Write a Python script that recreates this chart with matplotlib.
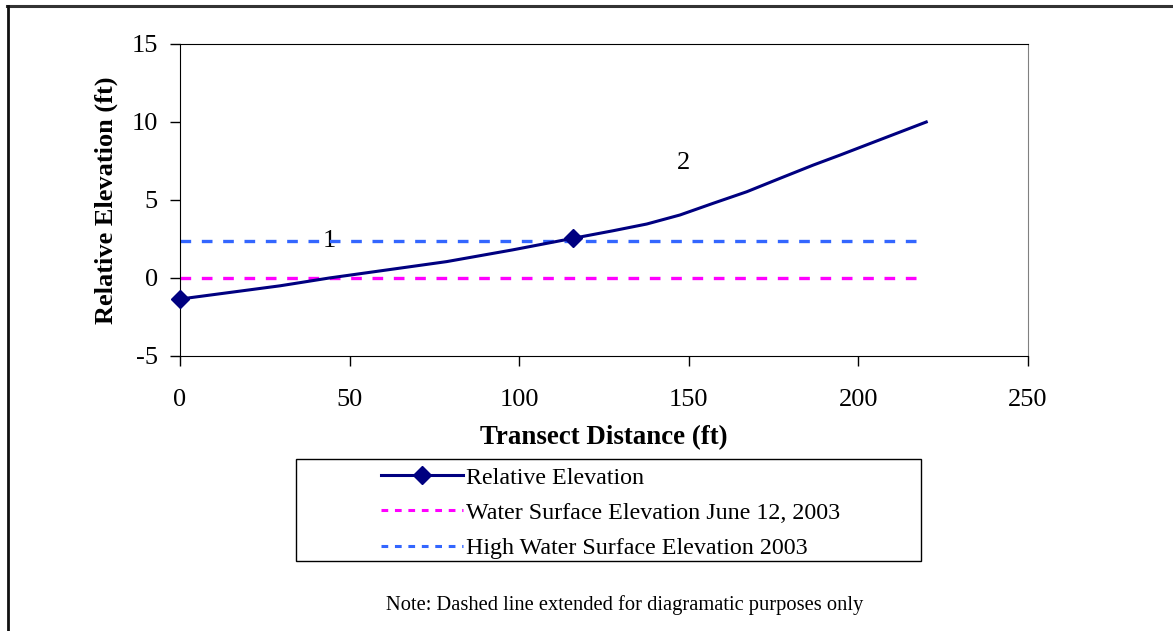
import matplotlib
matplotlib.use("Agg")
import matplotlib.pyplot as plt
from matplotlib.lines import Line2D
from matplotlib.patches import Rectangle

plt.rcParams['font.family'] = ['Liberation Serif', 'DejaVu Serif']
plt.rcParams['axes.unicode_minus'] = False

# Data
distance = [0, 29.5, 44, 78.6, 98, 116, 127.7, 137.6, 147.4, 157.2, 167.1, 176.9,
            186.7, 194.6, 205, 220]
elevation = [-1.35, -0.5, 0.0, 1.05, 1.8, 2.55, 3.03, 3.46, 4.04, 4.79, 5.53, 6.39,
             7.24, 7.88, 8.75, 10.0]
marker_idx = [0, 5]
wse_x = [0, 220]
wse_june = [0.0, 0.0]
wse_high = [2.4, 2.4]
annotations = [("1", 44, 2.4), ("2", 148.4, 7.35)]
xticks = [0, 50, 100, 150, 200, 250]
yticks = [-5, 0, 5, 10, 15]
legend_labels = ['Relative Elevation', 'Water Surface Elevation June 12, 2003',
                 'High Water Surface Elevation 2003']
note = 'Note: Dashed line extended for diagramatic purposes only'

W, H = 1173, 631
fig = plt.figure(figsize=(W / 100, H / 100), dpi=100)
ax = fig.add_axes([180 / W, 1 - 356 / H, (1028 - 180) / W, (356 - 44) / H])

navy = '#000080'
magenta = '#FF00FF'
blue = '#3366FF'

ax.plot(wse_x, wse_june, color=magenta, lw=2.4, dashes=(3.2, 3.2), zorder=2)
ax.plot(wse_x, wse_high, color=blue, lw=2.4, dashes=(3.2, 3.2), zorder=2)
ax.plot(distance, elevation, color=navy, lw=2.2, marker='D', markersize=9,
        markevery=marker_idx, zorder=3, clip_on=False)

for txt, x, y in annotations:
    ax.text(x, y, txt, fontsize=19, ha='center', va='center', zorder=1)

ax.set_xlim(0, 250)
ax.set_ylim(-5, 15)
ax.set_xticks(xticks)
ax.set_yticks(yticks)
ax.tick_params(direction='out', length=7, width=1, labelsize=19)
ax.tick_params(axis='x', pad=17)
ax.tick_params(axis='y', pad=9)
ax.set_xlabel('Transect Distance (ft)', fontsize=19.4, fontweight='bold', labelpad=10)
ax.set_ylabel('Relative Elevation (ft)', fontsize=19, fontweight='bold', labelpad=10)
for s in ['left', 'bottom', 'top']:
    ax.spines[s].set_color('black')
ax.spines['right'].set_color('#808080')

handles = [
    Line2D([], [], color=navy, lw=2.2, marker='D', markersize=9),
    Line2D([], [], color=magenta, lw=2.2, dashes=(2.2, 2.2)),
    Line2D([], [], color=blue, lw=2.2, dashes=(2.2, 2.2)),
]
leg_l, leg_r, leg_t, leg_b = 296, 921, 459, 561
fig.add_artist(Rectangle((leg_l / W, 1 - leg_b / H), (leg_r - leg_l) / W, (leg_b - leg_t) / H,
                         transform=fig.transFigure, fill=False, edgecolor='black', lw=1.0))
leg = fig.legend(handles, legend_labels, loc='upper left',
                 bbox_to_anchor=(376 / W, 1 - 462 / H),
                 fontsize=17.3, frameon=False, handlelength=3.4, handletextpad=0.15,
                 borderaxespad=0, borderpad=0.2, labelspacing=0.56)

fig.text(625 / W, 1 - 605 / H, note, fontsize=14.8, ha='center', va='center')

# outer border (top and left)
fig.add_artist(Line2D([7 / W, 1.0], [1 - 5.5 / H, 1 - 5.5 / H], color='#333333', lw=2.2,
                      transform=fig.transFigure))
fig.add_artist(Line2D([8 / W, 8 / W], [0, 1 - 5.5 / H], color='#111111', lw=2,
                      transform=fig.transFigure))

fig.savefig('out.png', dpi=100)
